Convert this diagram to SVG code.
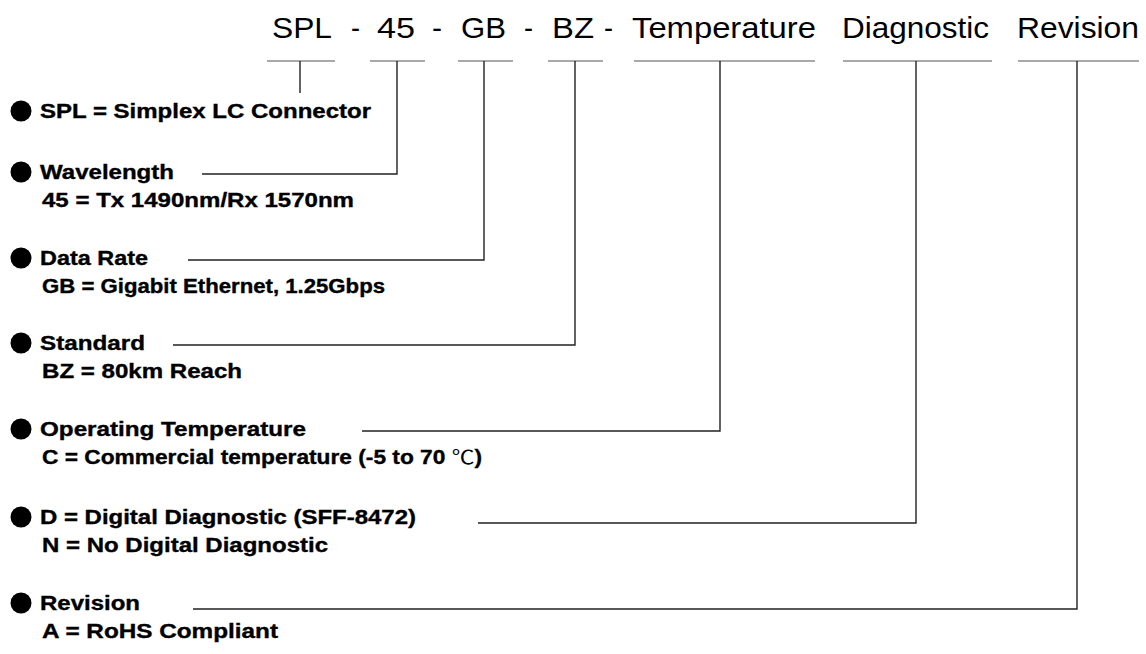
<svg xmlns="http://www.w3.org/2000/svg" width="1146" height="654" viewBox="0 0 1146 654">
<style>
.t{font-family:"Liberation Sans",Arial,sans-serif;font-size:30px;fill:#000}
.b{font-family:"Liberation Sans",Arial,sans-serif;font-size:19.5px;font-weight:bold;fill:#000;stroke:#000;stroke-width:0.35}
.u{stroke:#555;stroke-width:1.2;fill:none}
.c{stroke:#222;stroke-width:1.4;fill:none}
.dot{fill:#000}
</style>
<rect width="1146" height="654" fill="#fff"/>
<g id="title">
<text class="t" x="272" y="38" textLength="60" lengthAdjust="spacingAndGlyphs">SPL</text>
<text class="t" x="351" y="38" textLength="9" lengthAdjust="spacingAndGlyphs">-</text>
<text class="t" x="377" y="38" textLength="38" lengthAdjust="spacingAndGlyphs">45</text>
<text class="t" x="432" y="38" textLength="10" lengthAdjust="spacingAndGlyphs">-</text>
<text class="t" x="461" y="38" textLength="45" lengthAdjust="spacingAndGlyphs">GB</text>
<text class="t" x="524" y="38" textLength="9" lengthAdjust="spacingAndGlyphs">-</text>
<text class="t" x="552" y="38" textLength="42" lengthAdjust="spacingAndGlyphs">BZ</text>
<text class="t" x="604" y="38" textLength="9" lengthAdjust="spacingAndGlyphs">-</text>
<text class="t" x="632" y="38" textLength="184" lengthAdjust="spacingAndGlyphs">Temperature</text>
<text class="t" x="842" y="38" textLength="147" lengthAdjust="spacingAndGlyphs">Diagnostic</text>
<text class="t" x="1017" y="38" textLength="122" lengthAdjust="spacingAndGlyphs">Revision</text>
</g>
<g id="underlines">
<line class="u" x1="267" y1="61" x2="335" y2="61"/>
<line class="u" x1="370" y1="61" x2="425" y2="61"/>
<line class="u" x1="458" y1="61" x2="513" y2="61"/>
<line class="u" x1="548" y1="61" x2="603" y2="61"/>
<line class="u" x1="634" y1="61" x2="815" y2="61"/>
<line class="u" x1="843" y1="61" x2="992" y2="61"/>
<line class="u" x1="1018" y1="61" x2="1139" y2="61"/>
</g>
<g id="connectors">
<polyline class="c" points="300,61 300,93"/>
<polyline class="c" points="397,61 397,174 202,174"/>
<polyline class="c" points="484,61 484,260 188,260"/>
<polyline class="c" points="575,61 575,345 173,345"/>
<polyline class="c" points="720,61 720,431 362,431"/>
<polyline class="c" points="916,61 916,523 478,523"/>
<polyline class="c" points="1077,61 1077,609 193,609"/>
</g>
<g id="spl">
<circle class="dot" cx="21" cy="111" r="10.5"/>
<text class="b" x="40" y="118" textLength="331" lengthAdjust="spacingAndGlyphs">SPL = Simplex LC Connector</text>
</g>
<g id="wavelength">
<circle class="dot" cx="21" cy="172" r="10.5"/>
<text class="b" x="40" y="179" textLength="134" lengthAdjust="spacingAndGlyphs">Wavelength</text>
<text class="b" x="42" y="207" textLength="312" lengthAdjust="spacingAndGlyphs">45 = Tx 1490nm/Rx 1570nm</text>
</g>
<g id="datarate">
<circle class="dot" cx="21" cy="258" r="10.5"/>
<text class="b" x="40" y="265" textLength="108" lengthAdjust="spacingAndGlyphs">Data Rate</text>
<text class="b" x="42" y="293" textLength="343" lengthAdjust="spacingAndGlyphs">GB = Gigabit Ethernet, 1.25Gbps</text>
</g>
<g id="standard">
<circle class="dot" cx="21" cy="343" r="10.5"/>
<text class="b" x="40" y="350" textLength="105" lengthAdjust="spacingAndGlyphs">Standard</text>
<text class="b" x="42" y="378" textLength="200" lengthAdjust="spacingAndGlyphs">BZ = 80km Reach</text>
</g>
<g id="temperature">
<circle class="dot" cx="21" cy="429" r="10.5"/>
<text class="b" x="40" y="436" textLength="266" lengthAdjust="spacingAndGlyphs">Operating Temperature</text>
<text class="b" x="42" y="464" textLength="440" lengthAdjust="spacingAndGlyphs">C = Commercial temperature (-5 to 70 <tspan style="font-family:'Noto Sans CJK SC',sans-serif;font-weight:normal;stroke-width:0">℃</tspan>)</text>
</g>
<g id="diagnostic">
<circle class="dot" cx="21" cy="517" r="10.5"/>
<text class="b" x="40" y="524" textLength="376" lengthAdjust="spacingAndGlyphs">D = Digital Diagnostic (SFF-8472)</text>
<text class="b" x="42" y="552" textLength="286" lengthAdjust="spacingAndGlyphs">N = No Digital Diagnostic</text>
</g>
<g id="revision">
<circle class="dot" cx="21" cy="603" r="10.5"/>
<text class="b" x="40" y="610" textLength="100" lengthAdjust="spacingAndGlyphs">Revision</text>
<text class="b" x="42" y="638" textLength="236" lengthAdjust="spacingAndGlyphs">A = RoHS Compliant</text>
</g>
</svg>
